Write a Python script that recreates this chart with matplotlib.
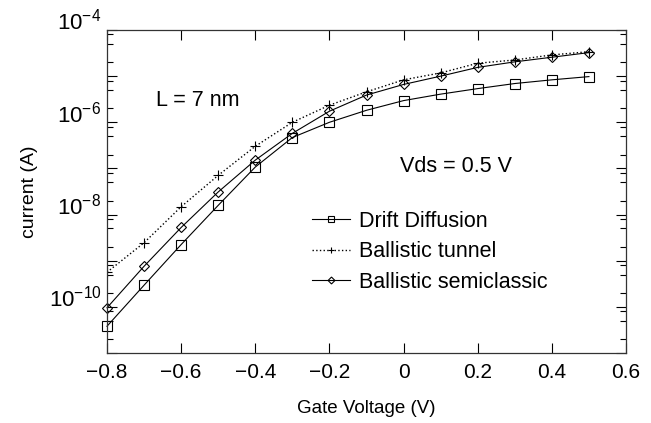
import numpy as np
import matplotlib
matplotlib.use('Agg')
import matplotlib.pyplot as plt
from matplotlib.ticker import FixedLocator, FuncFormatter, NullFormatter

plt.rcParams['font.family'] = ['Liberation Sans', 'DejaVu Sans']
plt.rcParams['mathtext.fontset'] = 'custom'
plt.rcParams['mathtext.rm'] = 'Liberation Sans'

# gate voltage (V)
vg = [-0.8, -0.7, -0.6, -0.5, -0.4, -0.3, -0.2, -0.1, 0.0, 0.1, 0.2, 0.3, 0.4, 0.5]

# log10 of current (A)
log_drift = [-10.42, -9.53, -8.65, -7.80, -6.97, -6.33, -6.00, -5.74, -5.53, -5.39, -5.27, -5.16, -5.08, -5.01]
log_tunnel = [-9.25, -8.61, -7.83, -7.15, -6.52, -6.00, -5.63, -5.34, -5.08, -4.93, -4.72, -4.65, -4.54, -4.47]
log_semi = [-10.02, -9.12, -8.28, -7.51, -6.82, -6.24, -5.76, -5.41, -5.18, -5.00, -4.81, -4.69, -4.59, -4.49]

drift = 10.0 ** np.array(log_drift)
tunnel = 10.0 ** np.array(log_tunnel)
semi = 10.0 ** np.array(log_semi)

W, H = 651, 423
fig = plt.figure(figsize=(W / 100, H / 100), dpi=100)
ax = fig.add_axes([107/W, 1-353/H, (626-107)/W, (353-30)/H])

lw = 0.8
ax.plot(vg, drift, '-', color='black', lw=lw, marker='s', ms=7, mfc='none', mew=0.8,
        label='Drift Diffusion', clip_on=False)
ax.plot(vg, tunnel, ':', color='black', lw=1.0, marker='+', ms=7, mew=0.8,
        label='Ballistic tunnel')
ax.plot(vg, semi, '-', color='black', lw=lw, marker='D', ms=5, mfc='none', mew=0.8,
        label='Ballistic semiclassic', clip_on=False)

ax.set_yscale('log')
ax.set_xlim(-0.8, 0.6)
ax.set_ylim(1e-11, 1e-4)

ax.set_xticks([-0.8, -0.6, -0.4, -0.2, 0.0, 0.2, 0.4, 0.6])
ax.xaxis.set_major_formatter(FuncFormatter(
    lambda v, p: '0' if abs(v) < 1e-9 else ('%.1f' % v).replace('-', '\u2212')))

decades = [1e-11, 1e-10, 1e-9, 1e-8, 1e-7, 1e-6, 1e-5, 1e-4]
labelled = [-4, -6, -8, -10]
ax.yaxis.set_major_locator(FixedLocator(decades))
ax.yaxis.set_major_formatter(FuncFormatter(
    lambda v, p: (r'$\mathregular{10^{%d}}$' % round(np.log10(v))) if round(np.log10(v)) in labelled else ''))
minor = [m * d for d in decades[:-1] for m in (2, 5, 8)]
ax.yaxis.set_minor_locator(FixedLocator(minor))
ax.yaxis.set_minor_formatter(NullFormatter())

ax.tick_params(axis='both', which='major', direction='in', length=7, width=0.8,
               top=True, right=True, labelsize=15, pad=7)
ax.tick_params(axis='y', which='major', labelsize=16, pad=4)
ax.tick_params(axis='both', which='minor', direction='in', length=4, width=0.8,
               top=True, right=True)
for lbl in ax.get_yticklabels():
    lbl.set_verticalalignment('baseline')

for s in ax.spines.values():
    s.set_linewidth(0.9)
    s.set_color('#333333')

ax.set_xlabel('Gate Voltage (V)', fontsize=13.5, labelpad=13)
ax.set_ylabel('current (A)', fontsize=14, labelpad=8)

fig.text(156/W, 1-100/H, 'L = 7 nm', fontsize=15.5, va='center', ha='left')
fig.text(456/W, 1-166/H, 'Vds = 0.5 V', fontsize=15.5, va='center', ha='center')

leg = fig.legend(loc='upper left', bbox_to_anchor=(312/W, 1-211/H), frameon=False, fontsize=15.5,
                 borderpad=0, borderaxespad=0, handlelength=1.75, handletextpad=0.45,
                 labelspacing=0.44, markerscale=0.7)

fig.savefig('out.png', dpi=100)
